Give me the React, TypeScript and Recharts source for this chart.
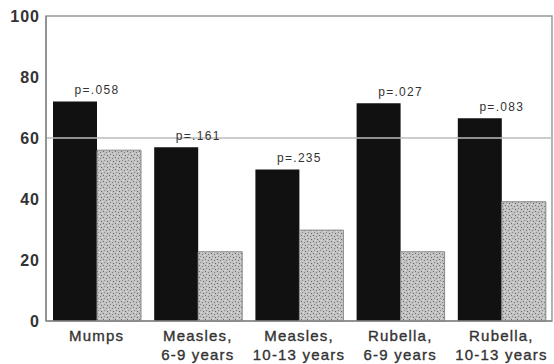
import React from "react";
import {
  BarChart,
  Bar,
  XAxis,
  YAxis,
  ReferenceLine,
  ReferenceArea,
  LabelList,
} from "recharts";

const categories = [
  "Mumps|",
  "Measles,|6-9 years",
  "Measles,|10-13 years",
  "Rubella,|6-9 years",
  "Rubella,|10-13 years",
];
const darkValues = [72, 57, 49.7, 71.4, 66.5];
const greyValues = [56, 22.7, 29.8, 22.7, 39.1];
const pValues = ["p=.058", "p=.161", "p=.235", "p=.027", "p=.083"];
const yTicks = [0, 20, 40, 60, 80, 100];

const data = categories.map((name, i) => ({
  name,
  dark: darkValues[i],
  grey: greyValues[i],
  p: pValues[i],
}));

const font = "'Liberation Sans', Arial, Helvetica, sans-serif";

const CategoryTick = (props: any) => {
  const { x, y, payload } = props;
  const [l1, l2] = String(payload.value).split("|");
  return (
    <g transform={`translate(${x},${y})`}>
      <text
        textAnchor="middle"
        fill="#333"
        stroke="#333"
        strokeWidth={0.35}
        fontFamily={font}
        fontSize={15}
        letterSpacing={1.2}
      >
        <tspan x={0} dy={12}>
          {l1}
        </tspan>
        {l2 ? (
          <tspan x={0} dy={19}>
            {l2}
          </tspan>
        ) : null}
      </text>
    </g>
  );
};

const PLabel = (props: any) => {
  const { x, y, width, value } = props;
  return (
    <text
      x={x + width}
      y={y - 7}
      textAnchor="middle"
      fill="#333"
      fontFamily={font}
      fontSize={12}
      letterSpacing={1.3}
    >
      {value}
    </text>
  );
};

export default function App() {
  return (
    <div style={{ position: "absolute", left: 0, top: 0, background: "#fff" }}>
      <BarChart
        width={554}
        height={364}
        data={data}
        margin={{ top: 16, right: 2, bottom: 0, left: 0 }}
        barCategoryGap={7}
        barGap={0}
      >
        <defs>
          <pattern id="stipple" width="6" height="6" patternUnits="userSpaceOnUse">
            <rect width="6" height="6" fill="#c2c2c2" />
            <rect x="1" y="1" width="1" height="1" fill="#6a6a6a" />
            <rect x="4" y="2" width="1" height="1" fill="#7a7a7a" />
            <rect x="2" y="4" width="1" height="1" fill="#8a8a8a" />
            <rect x="5" y="5" width="1" height="1" fill="#666" />
            <rect x="3" y="0" width="1" height="1" fill="#e0e0e0" />
            <rect x="0" y="3" width="1" height="1" fill="#e0e0e0" />
          </pattern>
        </defs>
        <ReferenceArea
          y1={0}
          y2={100}
          fill="none"
          stroke="#999"
          strokeWidth={1.5}
        />
        <ReferenceLine y={60} stroke="#bbb" strokeWidth={1.5} />
        <XAxis
          dataKey="name"
          tick={<CategoryTick />}
          tickLine={false}
          axisLine={{ stroke: "#888", strokeWidth: 1.5 }}
          height={43}
          interval={0}
        />
        <YAxis
          domain={[0, 100]}
          ticks={yTicks}
          width={46}
          tickLine={false}
          axisLine={{ stroke: "#888", strokeWidth: 1.5 }}
          tickMargin={0}
          tick={{
            fill: "#333",
            fontFamily: font,
            fontSize: 16,
            fontWeight: 700,
            letterSpacing: 1,
          }}
        />
        <Bar dataKey="dark" fill="#111" isAnimationActive={false}>
          <LabelList dataKey="p" content={<PLabel />} />
        </Bar>
        <Bar
          dataKey="grey"
          fill="url(#stipple)"
          stroke="#888"
          strokeWidth={1}
          isAnimationActive={false}
        />
      </BarChart>
    </div>
  );
}
